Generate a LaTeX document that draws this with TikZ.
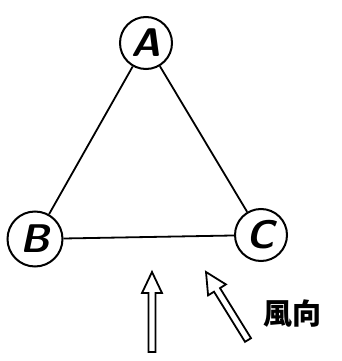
\documentclass[tikz,border=0pt]{standalone}
\usepackage{fontspec}
\newfontfamily\cjk{Noto Sans CJK TC}
\begin{document}
\begin{tikzpicture}[x=1pt,y=-1pt,
  station/.style={circle,draw,line width=2pt,minimum size=52pt,inner sep=0pt,
    font=\fontsize{40}{40}\selectfont\sffamily\bfseries\itshape},
  edge/.style={line width=1.8pt},
  hollow/.style={line width=1.8pt,line join=miter}]
\useasboundingbox (0,0) rectangle (342,361);
\node[station] (A) at (146,43) {A};
\node[station,minimum size=55pt] (B) at (35,239) {B};
\node[station] (C) at (261,235) {C};
\draw[edge] (A) -- (B);
\draw[edge] (A) -- (C);
\draw[edge] (B) -- (C);
% vertical hollow arrow
\draw[hollow] (152,272) -- (142,293) -- (148.5,293) -- (148.5,352) -- (155.5,352) -- (155.5,293) -- (162,293) -- cycle;
% diagonal hollow arrow
\draw[hollow] (206,272) -- (208.1,295.4) -- (214,291.7) -- (245,341.8) -- (251,338.2) -- (220,288.1) -- (225.9,284.4) -- cycle;
\node[font=\cjk\bfseries\fontsize{29}{29}\selectfont, inner sep=0pt] (wind) at (292,314) {風向};
\end{tikzpicture}
\end{document}
